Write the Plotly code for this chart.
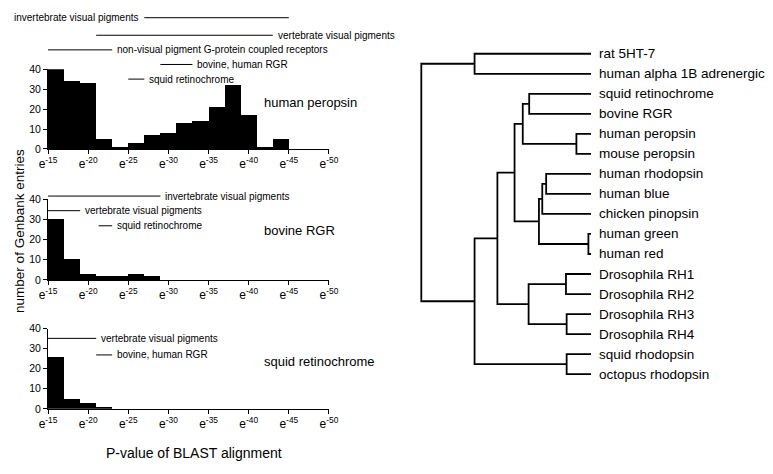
import plotly.graph_objects as go

W, H = 773, 474
FONT = "Liberation Sans, Arial, Helvetica, sans-serif"

# ---------------- histogram data ----------------
bin_left = [15, 17, 19, 21, 23, 25, 27, 29, 31, 33, 35, 37, 39, 41, 43]
peropsin_counts = [40, 34, 33, 5, 1, 3, 7, 8, 13, 14, 21, 32, 17, 1, 5]
bovine_counts = [30, 10, 3, 2, 2, 3, 2, 0, 0, 0, 0, 0, 0, 0, 0]
squid_counts = [26, 5, 3, 1, 0, 0, 0, 0, 0, 0, 0, 0, 0, 0, 0]
exp_ticks = [15, 20, 25, 30, 35, 40, 45, 50]
tick_labels = ["e<sup>-%d</sup>" % t for t in exp_ticks]
y_ticks = [0, 10, 20, 30, 40]
panel_titles = ["human peropsin", "bovine RGR", "squid retinochrome"]

# similarity ranges (label, from exponent, to exponent, label side)
peropsin_ranges = [
    ("invertebrate visual pigments", 27, 45, "left"),
    ("vertebrate visual pigments", 21, 43, "right"),
    ("non-visual pigment G-protein coupled receptors", 15, 23, "right"),
    ("bovine, human RGR", 29, 33, "right"),
    ("squid retinochrome", 25, 27, "right"),
]
bovine_ranges = [
    ("invertebrate visual pigments", 15, 29, "right"),
    ("vertebrate visual pigments", 15, 19, "right"),
    ("squid retinochrome", 21.3, 23, "right"),
]
squid_ranges = [
    ("vertebrate visual pigments", 15, 21, "right"),
    ("bovine, human RGR", 21, 23, "right"),
]

# ---------------- tree data ----------------
leaf_names = [
    "rat 5HT-7", "human alpha 1B adrenergic", "squid retinochrome", "bovine RGR",
    "human peropsin", "mouse peropsin", "human rhodopsin", "human blue",
    "chicken pinopsin", "human green", "human red", "Drosophila RH1",
    "Drosophila RH2", "Drosophila RH3", "Drosophila RH4", "squid rhodopsin",
    "octopus rhodopsin",
]
leaf_depth = 174
tree_nodes = {
    "root": (0, ["ratalpha", "rest"]),
    "ratalpha": (54.6, ["rat 5HT-7", "human alpha 1B adrenergic"]),
    "rest": (54.6, ["big", "sqoct"]),
    "big": (78, ["A", "dros"]),
    "A": (95.6, ["rgrper", "vis"]),
    "rgrper": (104, ["retrgr", "per"]),
    "retrgr": (110.6, ["squid retinochrome", "bovine RGR"]),
    "per": (159, ["human peropsin", "mouse peropsin"]),
    "vis": (120.6, ["rbp", "gr"]),
    "rbp": (124, ["rb", "chicken pinopsin"]),
    "rb": (128, ["human rhodopsin", "human blue"]),
    "gr": (171.3, ["human green", "human red"]),
    "dros": (110, ["d12", "d34"]),
    "d12": (148.3, ["Drosophila RH1", "Drosophila RH2"]),
    "d34": (149, ["Drosophila RH3", "Drosophila RH4"]),
    "sqoct": (149, ["squid rhodopsin", "octopus rhodopsin"]),
}

# ---------------- layout helpers ----------------
def px(p):
    return p / W


def py(p):
    return 1 - p / H


panels = [
    dict(counts=peropsin_counts, ranges=peropsin_ranges, y0=146.7, y40=65,
         rows=[12, 30, 45, 60, 75], title_y=99),
    dict(counts=bovine_counts, ranges=bovine_ranges, y0=281, y40=198.3,
         rows=[195, 210, 225.5], title_y=230),
    dict(counts=squid_counts, ranges=squid_ranges, y0=413.3, y40=331,
         rows=[341, 358], title_y=365),
]

fig = go.Figure()
shapes = []
annotations = []
layout_axes = {}

for i, p in enumerate(panels):
    n = "" if i == 0 else str(i + 1)
    xa, ya = "x" + n, "y" + n
    fig.add_trace(go.Bar(
        x=[b + 1 for b in bin_left], y=p["counts"], width=2,
        marker=dict(color="black", line=dict(width=0)),
        xaxis=xa, yaxis=ya, hoverinfo="skip", showlegend=False,
    ))
    layout_axes["xaxis" + n] = dict(
        domain=[px(40), px(328)], range=[15, 50], anchor=ya,
        tickvals=exp_ticks, ticktext=tick_labels, ticks="outside", ticklen=4,
        tickcolor="black", showline=True, linecolor="black", linewidth=1,
        showgrid=False, zeroline=False, tickfont=dict(size=12, color="black"),
    )
    layout_axes["yaxis" + n] = dict(
        domain=[py(p["y0"]), py(p["y40"])], range=[0, 40], anchor=xa,
        tickvals=y_ticks, ticks="outside", ticklen=4, tickcolor="black",
        showline=True, linecolor="black", linewidth=1, showgrid=False,
        zeroline=False, tickfont=dict(size=10.5, color="black"),
    )
    for (label, a, b, side), rowp in zip(p["ranges"], p["rows"]):
        shapes.append(dict(type="line", xref=xa, yref="paper", x0=a, x1=b,
                           y0=py(rowp), y1=py(rowp),
                           line=dict(color="black", width=1)))
        if side == "right":
            annotations.append(dict(x=b, y=py(rowp), xref=xa, yref="paper",
                                    text=label, showarrow=False, xanchor="left",
                                    yanchor="middle", xshift=3,
                                    font=dict(size=10, color="black")))
        else:
            annotations.append(dict(x=a, y=py(rowp), xref=xa, yref="paper",
                                    text=label, showarrow=False, xanchor="right",
                                    yanchor="middle", xshift=-3,
                                    font=dict(size=10, color="black")))
    annotations.append(dict(x=px(259), y=py(p["title_y"]), xref="paper",
                            yref="paper", text=panel_titles[i], showarrow=False,
                            xanchor="left", yanchor="middle",
                            font=dict(size=13, color="black")))

annotations.append(dict(x=px(10), y=py(231), xref="paper", yref="paper",
                        text="number of Genbank entries", textangle=-90,
                        showarrow=False, xanchor="center", yanchor="middle",
                        font=dict(size=13.5, color="black")))
annotations.append(dict(x=px(190), y=py(459), xref="paper", yref="paper",
                        text="P-value of BLAST alignment", showarrow=False,
                        xanchor="center", yanchor="middle",
                        font=dict(size=14, color="black")))

# ---------------- tree ----------------
leaf_index = {name: k for k, name in enumerate(leaf_names)}
pos = {}


def place(name):
    if name in leaf_index:
        pos[name] = (leaf_depth, leaf_index[name])
        return pos[name]
    d, kids = tree_nodes[name]
    ys = [place(k)[1] for k in kids]
    pos[name] = (d, (min(ys) + max(ys)) / 2)
    return pos[name]


place("root")
tx, ty = [], []
for name, (d, kids) in tree_nodes.items():
    (d1, y1), (d2, y2) = pos[kids[0]], pos[kids[-1]]
    tx += [d1, d, d, d2, None]
    ty += [y1, y1, y2, y2, None]
fig.add_trace(go.Scatter(x=tx, y=ty, mode="lines",
                         line=dict(color="black", width=1.8),
                         xaxis="x4", yaxis="y4", hoverinfo="skip",
                         showlegend=False))
for name in leaf_names:
    annotations.append(dict(x=leaf_depth, y=leaf_index[name], xref="x4",
                            yref="y4", text=name, showarrow=False,
                            xanchor="left", yanchor="middle", xshift=6,
                            font=dict(size=13.5, color="black")))

unit = 20.54
layout_axes["xaxis4"] = dict(domain=[px(412.7), px(606.7)], range=[-10, 184],
                             visible=False, anchor="y4")
layout_axes["yaxis4"] = dict(domain=[py(377.7 + unit / 2), py(49 - unit / 2)],
                             range=[16.5, -0.5], visible=False, anchor="x4")

fig.update_layout(
    width=W, height=H, margin=dict(l=0, r=0, t=0, b=0),
    paper_bgcolor="white", plot_bgcolor="white",
    font=dict(family=FONT, color="black"),
    bargap=0, showlegend=False,
    shapes=shapes, annotations=annotations, **layout_axes,
)

fig.write_html("out.html", config={"displayModeBar": False},
               post_script="document.body.style.margin='0';"
                           "document.body.style.overflow='hidden';")
